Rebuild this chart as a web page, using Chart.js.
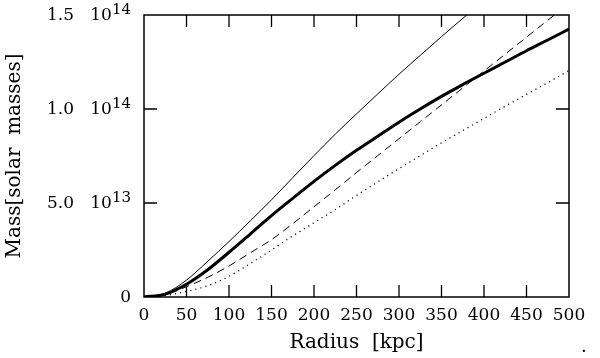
<!DOCTYPE html>
<html>
<head>
<meta charset="utf-8">
<script src="https://cdn.jsdelivr.net/npm/chart.js@4.4.1/dist/chart.umd.min.js"></script>
<style>
  html, body { margin: 0; padding: 0; background: #fff; }
  #wrap { width: 600px; height: 358px; }
</style>
</head>
<body>
<div id="wrap"><canvas id="massChart" width="600" height="358"></canvas></div>
<script>
// Radius in kpc, masses in units of 1e14 solar masses
const radius = [0, 25, 50, 75, 100, 125, 150, 175, 200, 225, 250, 275, 300, 325, 350, 375, 400, 425, 450, 475, 500];
const massThin = [0, 0.02, 0.09, 0.19, 0.295, 0.405, 0.517, 0.635, 0.752, 0.866, 0.974, 1.08, 1.185, 1.285, 1.385, 1.482, 1.575, null, null, null, null];
const massThick = [0, 0.015, 0.068, 0.145, 0.238, 0.335, 0.433, 0.525, 0.615, 0.7, 0.78, 0.855, 0.93, 1.0, 1.067, 1.13, 1.19, 1.25, 1.31, 1.367, 1.425];
const massDashed = [0, 0.012, 0.055, 0.105, 0.165, 0.235, 0.305, 0.39, 0.48, 0.57, 0.662, 0.752, 0.842, 0.932, 1.022, 1.112, 1.202, 1.292, 1.382, 1.472, 1.562];
const massDotted = [0, 0.008, 0.03, 0.06, 0.11, 0.178, 0.25, 0.325, 0.395, 0.465, 0.54, 0.612, 0.683, 0.752, 0.82, 0.885, 0.95, 1.015, 1.078, 1.14, 1.205];

// y tick labels: mantissa, base, exponent
const yTickValues = [0, 0.5, 1.0, 1.5];
const yTickMantissa = ['0', '5.0', '1.0', '1.5'];
const yTickExponent = [null, '13', '14', '14'];

const FONT = '"DejaVu Serif", serif';

function toPoints(values) {
    return radius.map((r, i) => ({ x: r, y: values[i] }));
}

function lineSet(values, width, dash) {
    return {
        data: toPoints(values),
        borderColor: '#000',
        borderWidth: width,
        borderDash: dash,
        pointRadius: 0,
        cubicInterpolationMode: 'monotone',
        fill: false,
        clip: 0
    };
}

// Frame, inward ticks on all four sides and the y tick labels with exponents
const frameTicks = {
    id: 'frameTicks',
    afterDraw(chart) {
        const ctx = chart.ctx;
        const area = chart.chartArea;
        const xs = chart.scales.x;
        const ys = chart.scales.y;
        ctx.save();
        ctx.strokeStyle = '#000';
        ctx.lineWidth = 1.5;
        ctx.strokeRect(area.left, area.top, area.right - area.left, area.bottom - area.top);
        ctx.lineWidth = 1.3;
        ctx.beginPath();
        for (let r = 50; r < 500; r += 50) {
            const px = xs.getPixelForValue(r);
            ctx.moveTo(px, area.bottom);
            ctx.lineTo(px, area.bottom - 12);
            ctx.moveTo(px, area.top);
            ctx.lineTo(px, area.top + 12);
        }
        yTickValues.slice(1, -1).forEach(v => {
            const py = ys.getPixelForValue(v);
            ctx.moveTo(area.left, py);
            ctx.lineTo(area.left + 13, py);
            ctx.moveTo(area.right, py);
            ctx.lineTo(area.right - 13, py);
        });
        ctx.stroke();

        ctx.fillStyle = '#000';
        ctx.textBaseline = 'middle';
        yTickValues.forEach((v, i) => {
            const py = ys.getPixelForValue(v) + 1;
            const right = area.left - 13;
            ctx.textAlign = 'right';
            if (yTickExponent[i] === null) {
                ctx.font = '17px ' + FONT;
                ctx.fillText(yTickMantissa[i], right, py);
                return;
            }
            ctx.font = '15px ' + FONT;
            ctx.fillText(yTickExponent[i], right, py - 6);
            const expW = ctx.measureText(yTickExponent[i]).width;
            ctx.font = '17px ' + FONT;
            ctx.fillText('10', right - expW, py);
            ctx.textAlign = 'left';
            ctx.fillText(yTickMantissa[i], 47, py);
        });

        // stray full stop at the lower right of the figure
        ctx.textAlign = 'left';
        ctx.textBaseline = 'alphabetic';
        ctx.font = '18px ' + FONT;
        ctx.fillText('.', 581, 352);
        ctx.restore();
    }
};

new Chart(document.getElementById('massChart'), {
    type: 'line',
    data: {
        datasets: [
            lineSet(massThin, 1, []),
            lineSet(massThick, 3, []),
            lineSet(massDashed, 1, [8, 5]),
            lineSet(massDotted, 1.2, [1.2, 4])
        ]
    },
    options: {
        responsive: false,
        animation: false,
        layout: { padding: { top: 15, right: 31, left: 0, bottom: 0 } },
        plugins: { legend: { display: false }, tooltip: { enabled: false } },
        scales: {
            x: {
                type: 'linear',
                min: 0,
                max: 500,
                afterFit(scale) { scale.height = 61; },
                grid: { display: false, drawTicks: false },
                border: { display: false },
                ticks: {
                    stepSize: 50,
                    padding: 8,
                    maxRotation: 0,
                    autoSkip: false,
                    color: '#000',
                    font: { family: FONT, size: 17 }
                },
                title: {
                    display: true,
                    text: 'Radius  [kpc]',
                    color: '#000',
                    font: { family: FONT, size: 20 },
                    padding: { top: 0, bottom: 3 }
                }
            },
            y: {
                min: 0,
                max: 1.5,
                afterFit(scale) { scale.width = 144; },
                grid: { display: false, drawTicks: false },
                border: { display: false },
                ticks: { display: false, stepSize: 0.5 },
                title: {
                    display: true,
                    text: 'Mass[solar  masses]',
                    color: '#000',
                    font: { family: FONT, size: 20 },
                    padding: { top: 3, bottom: 0 }
                }
            }
        }
    },
    plugins: [frameTicks]
});
</script>
</body>
</html>
